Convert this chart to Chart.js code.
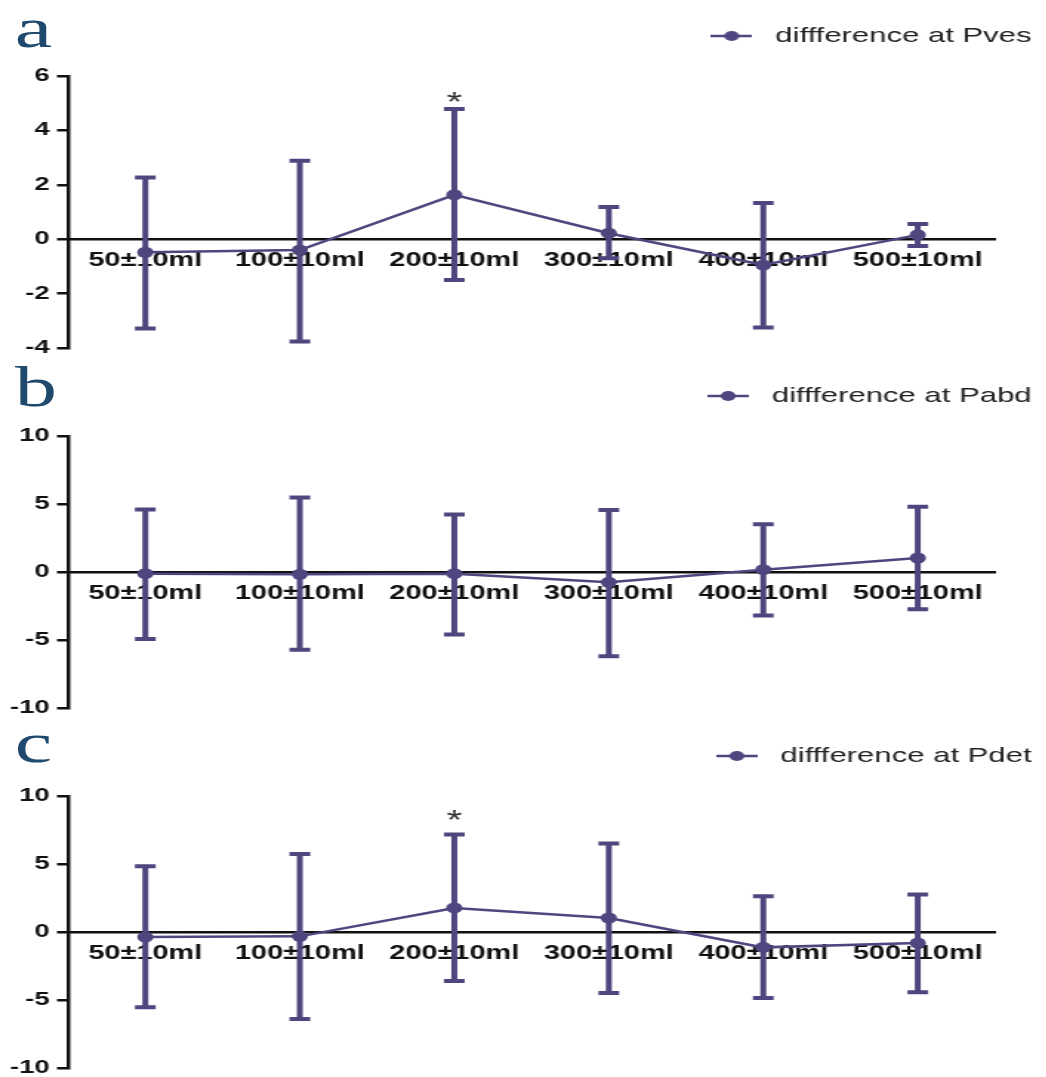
<!DOCTYPE html>
<html>
<head>
<meta charset="utf-8">
<script src="https://cdn.jsdelivr.net/npm/chart.js@4.4.0/dist/chart.umd.min.js"></script>
<style>
  html, body { margin: 0; padding: 0; background: #fff; overflow: hidden; }
  /* the source figure is stretched horizontally, so the whole thing is drawn narrow and scaled */
  #wrap { position: absolute; left: 0; top: 0; width: 707px; height: 1077px; transform: scaleX(1.48); transform-origin: 0 0; }
  .panel { position: absolute; left: 0; width: 707px; height: 360px; }
  .panel canvas { display: block; }
  .tag { position: absolute; left: 10px; font: 57px "Liberation Serif", "DejaVu Serif", serif; line-height: 1; color: #1f4a6e; }
</style>
</head>
<body>
<div id="wrap">
  <div class="panel" style="top:0px"><canvas id="chartA" width="707" height="360"></canvas></div>
  <div class="panel" style="top:360px"><canvas id="chartB" width="707" height="360"></canvas></div>
  <div class="panel" style="top:720px"><canvas id="chartC" width="707" height="360"></canvas></div>
  <div class="tag" style="top:-1px">a</div>
  <div class="tag" style="top:358px">b</div>
  <div class="tag" style="top:714px">c</div>
</div>
<script>
const volumes = ['50±10ml', '100±10ml', '200±10ml', '300±10ml', '400±10ml', '500±10ml'];

// a: Pves
const pvesMean  = [-0.48, -0.40, 1.63, 0.22, -0.95, 0.16];
const pvesUpper = [2.27, 2.88, 4.79, 1.18, 1.33, 0.56];
const pvesLower = [-3.28, -3.76, -1.50, -0.70, -3.25, -0.25];
const pvesStars = ['', '', '*', '', '', ''];

// b: Pabd
const pabdMean  = [-0.12, -0.17, -0.12, -0.76, 0.17, 1.03];
const pabdUpper = [4.60, 5.48, 4.23, 4.55, 3.51, 4.79];
const pabdLower = [-4.93, -5.72, -4.59, -6.19, -3.19, -2.73];
const pabdStars = ['', '', '', '', '', ''];

// c: Pdet
const pdetMean  = [-0.37, -0.32, 1.77, 1.03, -1.13, -0.81];
const pdetUpper = [4.83, 5.74, 7.16, 6.50, 2.62, 2.75];
const pdetLower = [-5.54, -6.40, -3.60, -4.49, -4.85, -4.43];
const pdetStars = ['', '', '*', '', '', ''];

const yTicksA = [-4, 6, 2];
const yTicksBC = [-10, 10, 5];

const PURPLE = '#51457f';
const INK = '#111111';

Chart.defaults.font.family = '"Liberation Sans", Arial, sans-serif';
Chart.defaults.color = INK;

function legendMark() {
  const c = document.createElement('canvas');
  c.width = 28; c.height = 14;
  const g = c.getContext('2d');
  g.strokeStyle = PURPLE;
  g.lineWidth = 2.5;
  g.beginPath(); g.moveTo(0, 7); g.lineTo(28, 7); g.stroke();
  g.fillStyle = PURPLE;
  g.beginPath(); g.arc(14, 7, 5, 0, Math.PI * 2); g.fill();
  return c;
}

const errorBars = {
  id: 'errorBars',
  beforeDatasetsDraw(chart, args, opts) {
    const {ctx, scales: {x, y}} = chart;
    ctx.save();
    ctx.strokeStyle = PURPLE;
    ctx.lineWidth = 4;
    opts.upper.forEach((hi, i) => {
      const px = x.getPixelForValue(i);
      const top = y.getPixelForValue(hi);
      const bot = y.getPixelForValue(opts.lower[i]);
      ctx.beginPath();
      ctx.moveTo(px, top); ctx.lineTo(px, bot);
      ctx.moveTo(px - 7, top); ctx.lineTo(px + 7, top);
      ctx.moveTo(px - 7, bot); ctx.lineTo(px + 7, bot);
      ctx.stroke();
      if (opts.stars[i]) {
        ctx.fillStyle = '#333';
        ctx.font = '27px "Liberation Sans", Arial, sans-serif';
        ctx.textAlign = 'center';
        ctx.textBaseline = 'alphabetic';
        ctx.fillText(opts.stars[i], px, top + 15.4 - opts.starGap);
      }
    });
    ctx.restore();
  }
};

const legendGap = {
  id: 'legendGap',
  afterInit(chart, args, opts) {
    const legend = chart.legend;
    const fit = legend.fit;
    legend.fit = function () {
      fit.call(legend);
      legend.height += opts.gap;
    };
  }
};

function makePanel(id, label, mean, upper, lower, stars, ticks, starGap) {
  new Chart(document.getElementById(id), {
    type: 'line',
    data: {
      labels: volumes,
      datasets: [{
        label: label,
        data: mean,
        borderColor: PURPLE,
        backgroundColor: PURPLE,
        borderWidth: 2.5,
        pointRadius: 5.5,
        pointBorderWidth: 0,
        pointBackgroundColor: PURPLE,
        tension: 0,
        fill: false
      }]
    },
    options: {
      responsive: false,
      animation: false,
      events: [],
      layout: { padding: { top: 15.5, bottom: 12, left: 0, right: 0 } },
      plugins: {
        legend: {
          position: 'top',
          align: 'end',
          labels: {
            usePointStyle: true,
            pointStyle: legendMark(),
            pointStyleWidth: 38,
            padding: 10,
            color: '#222',
            font: { size: 21 }
          }
        },
        tooltip: { enabled: false },
        legendGap: { gap: 19.5 },
        errorBars: { upper: upper, lower: lower, stars: stars, starGap: starGap }
      },
      scales: {
        x: {
          type: 'category',
          offset: true,
          position: { y: 0 },
          grid: { display: false, drawTicks: false },
          border: { display: true, color: INK, width: 2.5 },
          ticks: { padding: 10, maxRotation: 0, autoSkip: false, color: INK, font: { size: 19.5, weight: 'bold' } },
          afterFit(s) { s.height = 0; }
        },
        y: {
          min: ticks[0],
          max: ticks[1],
          ticks: { stepSize: ticks[2], padding: 5, color: INK, font: { size: 18.5, weight: 'bold' } },
          grid: { display: true, drawOnChartArea: false, drawTicks: true, tickLength: 7.5, color: INK, lineWidth: 2.5 },
          border: { display: true, color: INK, width: 2.5 },
          afterFit(s) { s.width = 46; s.paddingTop = 0; s.paddingBottom = 0; }
        },
        spacer: {
          type: 'linear',
          position: 'right',
          display: true,
          grid: { display: false },
          border: { display: false },
          ticks: { display: false },
          afterFit(s) { s.width = 34.7; }
        }
      }
    },
    plugins: [errorBars, legendGap]
  });
}

makePanel('chartA', 'diffference at Pves', pvesMean, pvesUpper, pvesLower, pvesStars, yTicksA, 13);
makePanel('chartB', 'diffference at Pabd', pabdMean, pabdUpper, pabdLower, pabdStars, yTicksBC, 13);
makePanel('chartC', 'diffference at Pdet', pdetMean, pdetUpper, pdetLower, pdetStars, yTicksBC, 21);
</script>
</body>
</html>
